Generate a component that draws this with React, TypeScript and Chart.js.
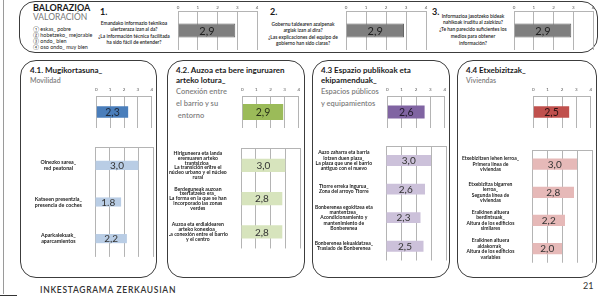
import React, { useEffect, useRef } from "react";
import { Chart, registerables } from "chart.js";

Chart.register(...registerables);

const FONT = "Lato, 'DejaVu Sans', sans-serif";

// ---------- DATA ----------
const scaleMin = 0;
const scaleMax = 4;

const q1Value = [2.9];
const q2Value = [2.9];
const q3Value = [2.9];

const mobilityTop = [2.3];
const mobilityLabels = [
  ["Oinezko sarea_", "red peatonal"],
  ["Katseen presentzia_", "presencia de coches"],
  ["Aparkalekuak_", "aparcamientos"],
];
const mobilityValues = [3.0, 1.8, 2.2];
const mobilityDecimalMarks = [",", ".", ","];

const connectionTop = [2.9];
const connectionLabels = [
  ["Hiriguneera eta landa", "eremuaren arteko", "trantsizioa_", "La transición entre el", "núcleo urbano y el núcleo", "rural"],
  ["Berdeguneak auzoan", "txertatzeko era_", "La forma en la que se han", "incorporado las zonas", "verdes"],
  ["Auzoa eta erdialdearen", "arteko konexioa_", "La conexión entre el barrio", "y el centro"],
];
const connectionValues = [3.0, 2.8, 2.8];

const publicTop = [2.6];
const publicLabels = [
  ["Auzo zaharra eta barria", "lotzen duen plaza_", "La plaza que une el barrio", "antiguo con el nuevo"],
  ["Ttorre erreka ingurua_", "Zona del arroyo Ttorre"],
  ["Bonberenea egokitzea eta", "mantentzea_", "Acondicionamiento y", "mantenimiento de", "Bonberenea"],
  ["Bonberenea lekualdatzea_", "Traslado de Bonberenea"],
];
const publicValues = [3.0, 2.6, 2.3, 2.5];

const housingTop = [2.5];
const housingLabels = [
  ["Etxebizitzen lehen lerroa_", "Primera línea de", "viviendas"],
  ["Etxebizitza bigarren", "lerroa_", "Segunda línea de", "viviendas"],
  ["Eraikinen altuera", "berdintsuak_", "Altura de los edificios", "similares"],
  ["Eraikinen altuera", "aldakorrak_", "Altura de los edificios", "variables"],
];
const housingValues = [3.0, 2.8, 2.2, 2.0];

const legendItems = ["① eskas_ pobre", "② hobetzeko_ mejorable", "③ ondo_ bien", "④ oso ondo_ muy bien"];
const q1Text = ["Emandako informazio teknikoa", "ulertzeraza izan al da?", "¿La información técnica facilitada", "ha sido fácil de entender?"];
const q2Text = ["Gobernu taldearen azalpenak", "argiak izan al dira?", "¿Las explicaciones del equipo de", "gobierno han sido claras?"];
const q3Text = ["Informazioa jasotzeko bideak", "nahikoak iruditu al zaizkizu?", "¿Te han parecido suficientes los", "medios para obtener", "información?"];

const fmt = (v: number, mark = ",") => v.toFixed(1).replace(".", mark);

// ---------- value label plugin ----------
const valuePlugin = {
  id: "valueText",
  afterDatasetsDraw(chart: any, _args: any, opts: any) {
    const ctx = chart.ctx;
    const meta = chart.getDatasetMeta(0);
    ctx.save();
    ctx.font = `${opts.size}px ${FONT}`;
    ctx.fillStyle = opts.color;
    ctx.textAlign = "center";
    ctx.textBaseline = "middle";
    meta.data.forEach((el: any, i: number) => {
      const p = el.getProps(["x", "y", "base"], true);
      ctx.fillText(opts.texts[i], (p.x + p.base) / 2, p.y + 0.5);
    });
    ctx.restore();
  },
};

type MiniProps = {
  left: number;
  top: number;
  width: number;
  height: number;
  labels: (string | string[])[];
  values: number[];
  texts: string[];
  color: string;
  barPct: number;
  showTicks?: boolean;
  tickPad?: number;
  axisH?: number;
  labelWidth?: number;
  labelSize?: number;
  labelLH?: number;
  valueSize?: number;
  valueColor?: string;
  borderColor?: string;
};

function MiniBar(p: MiniProps) {
  const ref = useRef<HTMLCanvasElement>(null);
  const labelWidth = p.labelWidth || 0;
  const axisH = p.showTicks ? p.axisH || 8 : 0;
  const padL = labelWidth ? 0 : 4;
  const padR = 4;
  const padT = 1;
  const padB = 1;
  const cw = padL + labelWidth + p.width + padR;
  const ch = padT + axisH + p.height + padB;

  useEffect(() => {
    const chart = new Chart(ref.current as HTMLCanvasElement, {
      type: "bar",
      data: {
        labels: p.labels,
        datasets: [
          {
            data: p.values,
            backgroundColor: p.color,
            borderColor: p.borderColor || p.color,
            borderWidth: p.borderColor ? 1 : 0,
            barPercentage: p.barPct,
            categoryPercentage: 1,
          },
        ],
      },
      options: {
        indexAxis: "y",
        responsive: false,
        animation: false,
        devicePixelRatio: 1,
        layout: { padding: { left: padL, right: padR, top: padT, bottom: padB } },
        plugins: {
          legend: { display: false },
          tooltip: { enabled: false },
          valueText: { texts: p.texts, size: p.valueSize || 10, color: p.valueColor || "#2a2a2a" },
        } as any,
        scales: {
          x: {
            type: "linear",
            position: "top",
            min: scaleMin,
            max: scaleMax,
            ticks: {
              display: !!p.showTicks,
              stepSize: 1,
              font: { size: 4.5, family: FONT },
              color: "#555",
              padding: p.tickPad ?? 1,
            },
            grid: { color: "#b4b4b4", lineWidth: 1, drawTicks: false },
            border: { display: true, color: "#b4b4b4" },
            afterFit: (s: any) => {
              s.height = axisH;
            },
          },
          y: {
            display: labelWidth > 0,
            grid: { display: false },
            border: { display: false },
            ticks: {
              font: { size: p.labelSize || 5, family: FONT, weight: "bold", lineHeight: p.labelLH || 1.1 },
              color: "#222",
              crossAlign: "center",
              padding: 5,
              autoSkip: false,
            },
            afterFit: (s: any) => {
              s.width = labelWidth;
            },
          },
        } as any,
      },
      plugins: [valuePlugin as any],
    });
    return () => chart.destroy();
  }, []);

  return (
    <canvas
      ref={ref}
      width={cw}
      height={ch}
      style={{
        position: "absolute",
        left: p.left - labelWidth - padL,
        top: p.top - axisH - padT,
        width: cw,
        height: ch,
      }}
    />
  );
}

function Txt(props: {
  x: number;
  y: number;
  size: number;
  lh: number;
  lines: string[];
  bold?: boolean | number;
  color?: string;
  align?: "left" | "center";
  w?: number;
  ls?: number;
}) {
  const weight = props.bold === true ? 700 : props.bold ? props.bold : 400;
  return (
    <div
      style={{
        position: "absolute",
        left: props.x,
        top: props.y,
        width: props.w,
        fontFamily: FONT,
        fontSize: props.size,
        lineHeight: props.lh + "px",
        fontWeight: weight as any,
        color: props.color || "#1a1a1a",
        textAlign: props.align || "left",
        whiteSpace: "pre",
        letterSpacing: props.ls,
      }}
    >
      {props.lines.map((l, i) => (
        <div key={i}>{l}</div>
      ))}
    </div>
  );
}

const boxStyle = (left: number, top: number, w: number, h: number): React.CSSProperties => ({
  position: "absolute",
  left,
  top,
  width: w,
  height: h,
  border: "1.6px solid #3c3c3c",
  borderRadius: 16,
  boxSizing: "border-box",
});

export default function App() {
  return (
    <div
      style={{
        position: "absolute",
        left: 0,
        top: 0,
        width: 599,
        height: 300,
        background: "#fff",
        overflow: "hidden",
      }}
    >
      {/* page edges */}
      <div style={{ position: "absolute", left: 3, top: 0, width: 1, height: 294, background: "#9a9a9a" }} />
      <div style={{ position: "absolute", left: 0, top: 295, width: 17, height: 1, background: "#333" }} />

      {/* top box */}
      <div style={boxStyle(19, 1, 579, 52)} />
      <Txt x={33} y={2} size={9} lh={12} bold lines={["BALORAZIOA"]} />
      <Txt x={33} y={11} size={8.5} lh={12} color="#777" lines={["VALORACIÓN"]} />
      <Txt x={33} y={26} size={5.4} lh={6.1} lines={legendItems} />

      <Txt x={100} y={6} size={9} lh={12} bold lines={["1."]} />
      <Txt x={89} y={19.7} w={90} size={4.9} lh={6.6} align="center" bold={600} lines={q1Text} />
      <Txt x={270} y={6} size={9} lh={12} bold lines={["2."]} />
      <Txt x={258} y={20.7} w={90} size={4.9} lh={6.6} align="center" bold={600} lines={q2Text} />
      <Txt x={432} y={6} size={9} lh={12} bold lines={["3."]} />
      <Txt x={428} y={12.6} w={90} size={4.9} lh={6.75} align="center" bold={600} lines={q3Text} />

      <MiniBar left={178} top={11} width={79} height={39} labels={[""]} values={q1Value} texts={q1Value.map((v) => fmt(v))}
        color="#7f7f7f" borderColor="#666" barPct={0.36} showTicks tickPad={1} axisH={8} valueSize={11} valueColor="#222" />
      <MiniBar left={346} top={11} width={80} height={39} labels={[""]} values={q2Value} texts={q2Value.map((v) => fmt(v))}
        color="#7f7f7f" borderColor="#666" barPct={0.36} showTicks tickPad={1} axisH={8} valueSize={11} valueColor="#222" />
      <MiniBar left={514} top={11} width={79} height={39} labels={[""]} values={q3Value} texts={q3Value.map((v) => fmt(v))}
        color="#7f7f7f" borderColor="#666" barPct={0.36} showTicks tickPad={1} axisH={8} valueSize={11} valueColor="#222" />

      {/* panel 4.1 */}
      <div style={boxStyle(20, 60, 137, 218)} />
      <Txt x={30} y={65} size={8} lh={10} bold lines={["4.1. Mugikortasuna_"]} />
      <Txt x={30} y={75} size={7} lh={10} bold={600} color="#808080" lines={["Movilidad"]} />
      <MiniBar left={95} top={96} width={58} height={32} labels={[""]} values={mobilityTop} texts={mobilityTop.map((v) => fmt(v))}
        color="#4a7ebb" barPct={0.36} showTicks tickPad={4} axisH={10} valueSize={10.5} valueColor="#1f2a3a" />
      <MiniBar left={95} top={137} width={58} height={130} labels={mobilityLabels} values={mobilityValues}
        texts={mobilityValues.map((v, i) => fmt(v, mobilityDecimalMarks[i]))} color="#b9cde5" barPct={0.25}
        labelWidth={72} labelSize={5.3} labelLH={1.15} valueSize={10} valueColor="#333" />

      {/* panel 4.2 */}
      <div style={boxStyle(167, 60, 138, 218)} />
      <Txt x={176} y={65} size={8} lh={10} bold lines={["4.2. Auzoa eta bere inguruaren", "arteko lotura_"]} />
      <Txt x={176} y={86} size={7.5} lh={12} bold={600} color="#808080" lines={["Conexión entre", "el barrio y su", " entorno"]} />
      <MiniBar left={241} top={96} width={59} height={32} labels={[""]} values={connectionTop} texts={connectionTop.map((v) => fmt(v))}
        color="#9bbb59" barPct={0.5} showTicks tickPad={4} axisH={10} valueSize={10.5} valueColor="#2a3318" />
      <MiniBar left={241} top={135} width={59} height={132} labels={connectionLabels} values={connectionValues}
        texts={connectionValues.map((v) => fmt(v))} color="#d7e4bd" barPct={0.4}
        labelWidth={72} labelSize={5.1} labelLH={0.95} valueSize={10} valueColor="#333" />

      {/* panel 4.3 */}
      <div style={boxStyle(312, 60, 138, 218)} />
      <Txt x={321} y={65} size={8} lh={10} bold lines={["4.3 Espazio publikoak eta", "ekipamenduak_"]} />
      <Txt x={321} y={86} size={7.5} lh={12} bold={600} color="#808080" lines={["Espacios públicos", "y equipamientos"]} />
      <MiniBar left={386} top={96} width={60} height={32} labels={[""]} values={publicTop} texts={publicTop.map((v) => fmt(v))}
        color="#8064a2" barPct={0.4} showTicks tickPad={4} axisH={10} valueSize={10.5} valueColor="#221a2c" />
      <MiniBar left={386} top={137} width={60} height={138} labels={publicLabels} values={publicValues}
        texts={publicValues.map((v) => fmt(v))} color="#ccc1da" barPct={0.38}
        labelWidth={72} labelSize={5} labelLH={1.05} valueSize={10} valueColor="#333" />

      {/* panel 4.4 */}
      <div style={boxStyle(457, 60, 140, 218)} />
      <Txt x={466} y={65} size={8} lh={10} bold lines={["4.4 Etxebizitzak_"]} />
      <Txt x={466} y={75} size={7} lh={10} bold={600} color="#808080" lines={["Viviendas"]} />
      <MiniBar left={532} top={96} width={60} height={32} labels={[""]} values={housingTop} texts={housingTop.map((v) => fmt(v))}
        color="#c0504d" barPct={0.36} showTicks tickPad={4} axisH={10} valueSize={10.5} valueColor="#2b1111" />
      <MiniBar left={532} top={135} width={60} height={140} labels={housingLabels} values={housingValues}
        texts={housingValues.map((v) => fmt(v))} color="#e6b9b8" barPct={0.4}
        labelWidth={73} labelSize={5} labelLH={1.1} valueSize={10} valueColor="#333" />

      {/* footer */}
      <Txt x={40} y={284} size={8.5} lh={12} bold={600} color="#333" ls={0.7} lines={["INKESTAGRAMA ZERKAUSIAN"]} />
      <Txt x={583} y={280} size={9} lh={12} color="#333" lines={["21"]} />
    </div>
  );
}
